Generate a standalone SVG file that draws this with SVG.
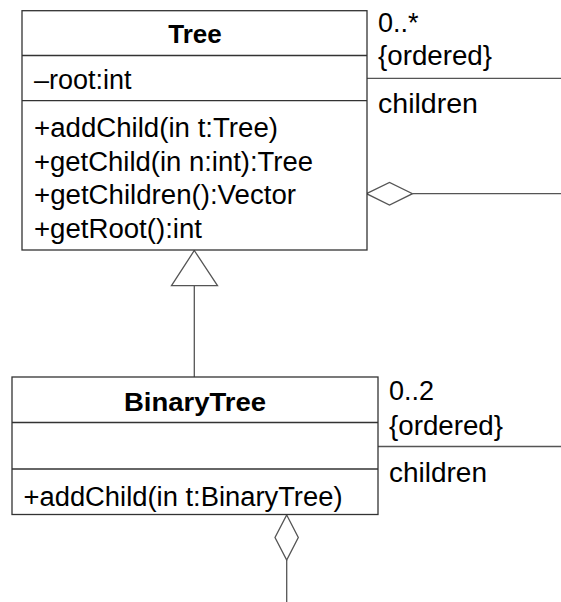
<svg xmlns="http://www.w3.org/2000/svg" width="561" height="602" viewBox="0 0 561 602">
<style>
.box{fill:#fff;stroke:#333;stroke-width:1.3}
.sep{stroke:#333;stroke-width:1.3}
.con{fill:none;stroke:#555;stroke-width:1.3}
.head{fill:#fff;stroke:#555;stroke-width:1.3}
text{font-family:"Liberation Sans",Arial,Helvetica,sans-serif;font-size:27px;fill:#000}
.title{font-weight:bold;font-size:26px;text-anchor:middle}
</style>
<rect width="561" height="602" fill="#fff"/>
<g id="connectors">
  <line class="con" x1="367" y1="78.3" x2="561" y2="78.3"/>
  <line class="con" x1="412.5" y1="193.7" x2="561" y2="193.7"/>
  <polygon class="head" points="366.5,193.7 389.5,182.5 412.5,193.7 389.5,205"/>
  <line class="con" x1="194.3" y1="285.7" x2="194.3" y2="377"/>
  <polygon class="head" points="194.3,250.5 217.5,285.7 171.5,285.7"/>
  <line class="con" x1="378" y1="446.5" x2="561" y2="446.5"/>
  <polygon class="head" points="286.7,515 298.3,537.5 286.7,560 275,537.5"/>
  <line class="con" x1="286.7" y1="560" x2="286.7" y2="602"/>
  <text x="378" y="31.5">0..*</text>
  <text x="378" y="65" textLength="114" lengthAdjust="spacingAndGlyphs">{ordered}</text>
  <text x="378" y="112.5" textLength="100" lengthAdjust="spacingAndGlyphs">children</text>
  <text x="389" y="400">0..2</text>
  <text x="389" y="435" textLength="114" lengthAdjust="spacingAndGlyphs">{ordered}</text>
  <text x="389" y="481.5" textLength="98" lengthAdjust="spacingAndGlyphs">children</text>
</g>
<g id="Tree">
  <rect class="box" x="22" y="10.7" width="345" height="239.3"/>
  <line class="sep" x1="22" y1="55.5" x2="367" y2="55.5"/>
  <line class="sep" x1="22" y1="100.7" x2="367" y2="100.7"/>
  <text class="title" x="195" y="43">Tree</text>
  <text x="34" y="89">–root:int</text>
  <text x="34" y="137" textLength="244" lengthAdjust="spacingAndGlyphs">+addChild(in t:Tree)</text>
  <text x="34" y="170.5" textLength="279" lengthAdjust="spacingAndGlyphs">+getChild(in n:int):Tree</text>
  <text x="34" y="204" textLength="262" lengthAdjust="spacingAndGlyphs">+getChildren():Vector</text>
  <text x="34" y="237.5" textLength="168" lengthAdjust="spacingAndGlyphs">+getRoot():int</text>
</g>
<g id="BinaryTree">
  <rect class="box" x="12" y="377" width="366" height="137.5"/>
  <line class="sep" x1="12" y1="422.5" x2="378" y2="422.5"/>
  <line class="sep" x1="12" y1="469" x2="378" y2="469"/>
  <text class="title" x="195" y="410.5" textLength="142" lengthAdjust="spacingAndGlyphs">BinaryTree</text>
  <text x="23.5" y="506" textLength="319" lengthAdjust="spacingAndGlyphs">+addChild(in t:BinaryTree)</text>
</g>
</svg>
